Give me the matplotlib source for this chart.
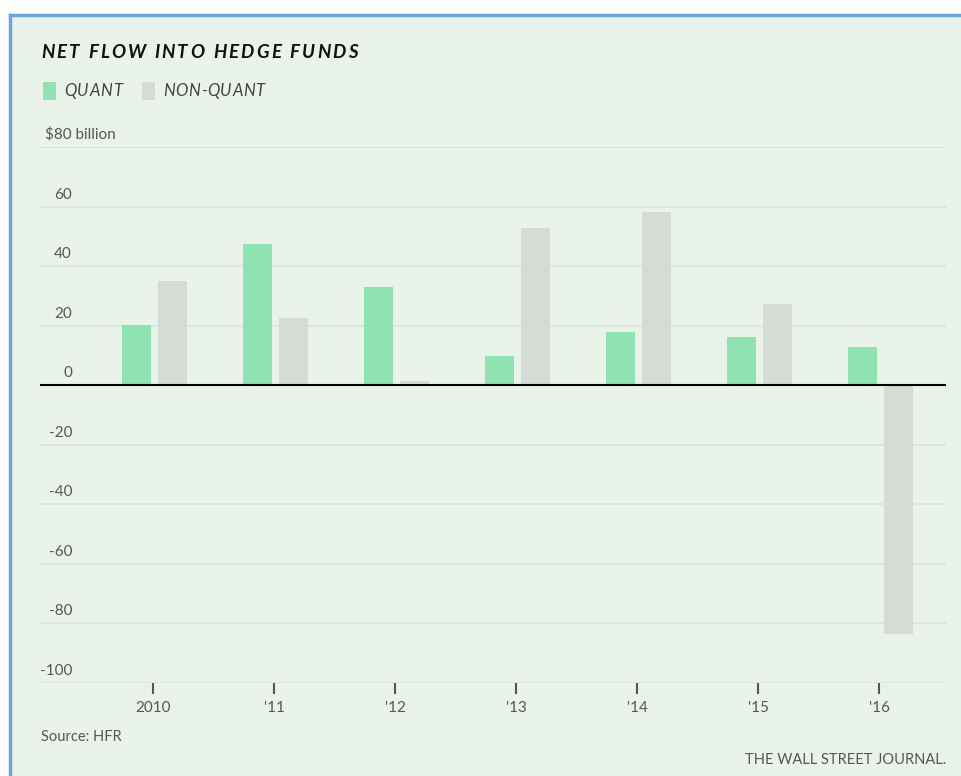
import matplotlib.pyplot as plt
from matplotlib.patches import Rectangle
import matplotlib.transforms as mtransforms
import numpy as np

years = ['2010', "'11", "'12", "'13", "'14", "'15", "'16"]
quant = [20.2, 47.4, 33.0, 9.7, 17.8, 16.1, 12.8]
non_quant = [35.0, 22.5, 1.3, 52.8, 58.2, 27.2, -83.7]
yticks = [80, 60, 40, 20, 0, -20, -40, -60, -80, -100]

bg = '#eaf3ea'
green = '#8fe3b0'
grey = '#d5dcd5'

plt.rcParams['font.family'] = ['Lato', 'DejaVu Sans']

fig = plt.figure(figsize=(9.61, 7.76), dpi=100)
fig.patch.set_facecolor('white')
# panel with blue border on top and left
fig.patches.append(Rectangle((10 / 961, 0), 1, 1 - 15 / 776, transform=fig.transFigure,
                             facecolor=bg, edgecolor='none', zorder=-5))
fig.add_artist(plt.Line2D([10 / 961, 10 / 961], [0, 1 - 15 / 776], color='#6fa3dc', lw=2.5,
                          transform=fig.transFigure))
fig.add_artist(plt.Line2D([10 / 961, 1], [1 - 15 / 776, 1 - 15 / 776], color='#6fa3dc', lw=2.5,
                          transform=fig.transFigure))

ax = fig.add_axes([40 / 961, (776 - 683) / 776, 906 / 961, 536 / 776])
ax.set_zorder(2)
ax.set_facecolor('none')
x = np.arange(len(years))
w = 0.24
ax.bar(x - 0.139, quant, w, color=green, zorder=2)
ax.bar(x + 0.160, non_quant, w, color=grey, zorder=2)

ax.set_xlim(-0.934, 6.554)
ax.set_ylim(-100, 80)
for sp in ax.spines.values():
    sp.set_visible(False)
ax.set_yticks(yticks)
ax.yaxis.grid(True, color='#dbe4db', lw=1.2, zorder=0)
ax.set_axisbelow(True)
ax.tick_params(axis='y', length=0, labelleft=False)
ax.axhline(0, color='black', lw=1.5, zorder=3)

ax.set_xticks(x)
ax.set_xticklabels(years, fontsize=11, color='#555555')
ax.tick_params(axis='x', length=8, width=1.5, color='#555555', pad=5, direction='out')

lift = mtransforms.ScaledTranslation(0, 5 / 100, fig.dpi_scale_trans)
tr = mtransforms.blended_transform_factory(fig.transFigure, ax.transData) + lift
for v in yticks:
    if v == 80:
        ax.text(45 / 961, v, '$80 billion', transform=tr, ha='left', va='bottom',
                fontsize=11, color='#555555')
    else:
        ax.text(72 / 961, v, str(v), transform=tr, ha='right', va='bottom',
                fontsize=11, color='#555555')


def spaced_text(x0, y0, s, gap, **kw):
    # draw text one character at a time to get letter spacing
    renderer = fig.canvas.get_renderer()
    xp = x0
    for ch in s:
        t = fig.text(xp / 961, 1 - y0 / 776, ch, va='center', ha='left', **kw)
        bb = t.get_window_extent(renderer)
        if ch == ' ':
            t2 = fig.text(0, 0, 'a a', **kw)
            t3 = fig.text(0, 0, 'aa', **kw)
            wdt = t2.get_window_extent(renderer).width - t3.get_window_extent(renderer).width
            t2.remove()
            t3.remove()
        else:
            wdt = bb.width
        xp += wdt + gap


spaced_text(41, 52, 'NET FLOW INTO HEDGE FUNDS', 2.2, fontsize=13.5, fontweight='bold',
            fontstyle='italic', color='#111111')

fig.patches.append(Rectangle((43 / 961, 1 - 100 / 776), 13 / 961, 18 / 776, transform=fig.transFigure,
                             facecolor=green, edgecolor='none'))
spaced_text(64, 91, 'QUANT', 0.8, fontsize=12, fontstyle='italic', color='#444444')
fig.patches.append(Rectangle((142 / 961, 1 - 100 / 776), 13 / 961, 18 / 776, transform=fig.transFigure,
                             facecolor=grey, edgecolor='none'))
spaced_text(163, 91, 'NON-QUANT', 0.6, fontsize=12, fontstyle='italic', color='#444444')

fig.text(41 / 961, 1 - 737 / 776, 'Source: HFR', fontsize=10.5, color='#555555', va='center', ha='left')
fig.text(946 / 961, 1 - 760 / 776, 'THE WALL STREET JOURNAL.', fontsize=10.5, color='#555555',
         va='center', ha='right')

fig.savefig('out.png', dpi=100, facecolor=fig.get_facecolor())
